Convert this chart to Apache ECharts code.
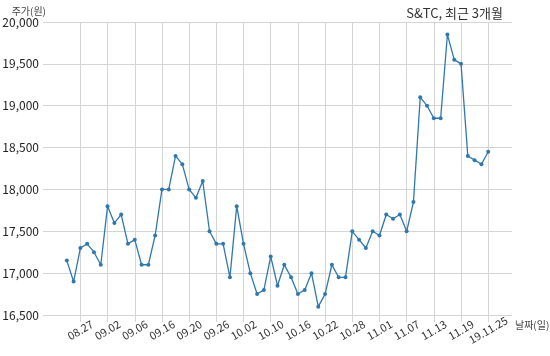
<!DOCTYPE html>
<html>
<head>
<meta charset="utf-8">
<script src="https://cdn.jsdelivr.net/npm/echarts@6/dist/echarts.min.js"></script>
<style>
html,body{margin:0;padding:0;background:#fff;}
#chart{width:550px;height:356px;}
</style>
</head>
<body>
<div id="chart"></div>
<script>
// Tick labels (every 4th trading day, first at the 3rd point)
const tickLabels = ['08.27','09.02','09.06','09.16','09.20','09.26','10.02','10.10',
  '10.16','10.22','10.28','11.01','11.07','11.13','11.19','19.11.25'];
// Closing prices (원)
const prices = [17150,16900,17300,17350,17250,17100,17800,17600,17700,17350,
  17400,17100,17100,17450,18000,18000,18400,18300,18000,17900,
  18100,17500,17350,17350,16950,17800,17350,17000,16750,16800,
  17200,16850,17100,16950,16750,16800,17000,16600,16750,17100,
  16950,16950,17500,17400,17300,17500,17450,17700,17650,17700,
  17500,17850,19100,19000,18850,18850,19850,19550,19500,18400,
  18350,18300,18450];
const yTicks = [16500,17000,17500,18000,18500,19000,19500,20000];
const titleText = 'S&TC, 최근 3개월';
const yName = '주가(원)';
const xName = '날짜(일)';

const PAD = 3; // empty slots on each side of the category axis
const cats = [];
const vals = [];
for (let i = 0; i < prices.length + 2 * PAD; i++) {
  const d = i - PAD;
  let lab = '';
  if (d >= 2 && d < prices.length && (d - 2) % 4 === 0) lab = tickLabels[(d - 2) / 4];
  cats.push(lab);
  vals.push(d >= 0 && d < prices.length ? prices[d] : '-');
}
const showIdx = (idx) => cats[idx] !== '';

const font = '"Noto Sans CJK KR", "Noto Sans", sans-serif';
const chart = echarts.init(document.getElementById('chart'), null, {renderer: 'canvas'});
chart.setOption({
  animation: false,
  backgroundColor: '#ffffff',
  title: {
    text: titleText,
    right: 42,
    top: 2,
    textStyle: {fontFamily: font, fontSize: 13, fontWeight: 'normal', color: '#333'}
  },
  grid: {left: 43, right: 38, top: 22, bottom: 41, outerBoundsMode: 'none', containLabel: false},
  xAxis: {
    type: 'category',
    data: cats,
    boundaryGap: true,
    name: xName,
    nameLocation: 'end',
    nameGap: 0,
    nameTextStyle: {fontFamily: font, fontSize: 10, color: '#444', verticalAlign: 'top', padding: [5, 0, 0, 0]},
    axisLine: {show: false},
    axisTick: {show: true, alignWithLabel: true, interval: showIdx, length: 7, lineStyle: {color: '#d4d4d4'}},
    splitLine: {show: true, alignWithLabel: true, interval: showIdx, lineStyle: {color: '#d4d4d4', width: 1}},
    axisLabel: {
      interval: showIdx,
      rotate: 30,
      align: 'center',
      verticalAlign: 'middle',
      margin: 15,
      fontFamily: font,
      fontSize: 11,
      color: '#333'
    }
  },
  yAxis: {
    type: 'value',
    min: yTicks[0],
    max: yTicks[yTicks.length - 1],
    interval: yTicks[1] - yTicks[0],
    name: yName,
    nameLocation: 'end',
    nameGap: 3,
    nameTextStyle: {fontFamily: font, fontSize: 10, color: '#444', align: 'right', padding: [0, -3, 0, 0]},
    axisLine: {show: false},
    axisTick: {show: false},
    splitLine: {show: true, lineStyle: {color: '#d4d4d4', width: 1}},
    axisLabel: {
      margin: 4,
      fontFamily: font,
      fontSize: 12,
      color: '#222',
      formatter: (v) => v.toLocaleString('en-US')
    }
  },
  series: [{
    type: 'line',
    data: vals,
    showSymbol: true,
    showAllSymbol: true,
    symbol: 'circle',
    symbolSize: 4,
    connectNulls: false,
    lineStyle: {color: '#2f78ae', width: 1.3},
    itemStyle: {color: '#2f78ae'}
  }]
});
</script>
</body>
</html>
